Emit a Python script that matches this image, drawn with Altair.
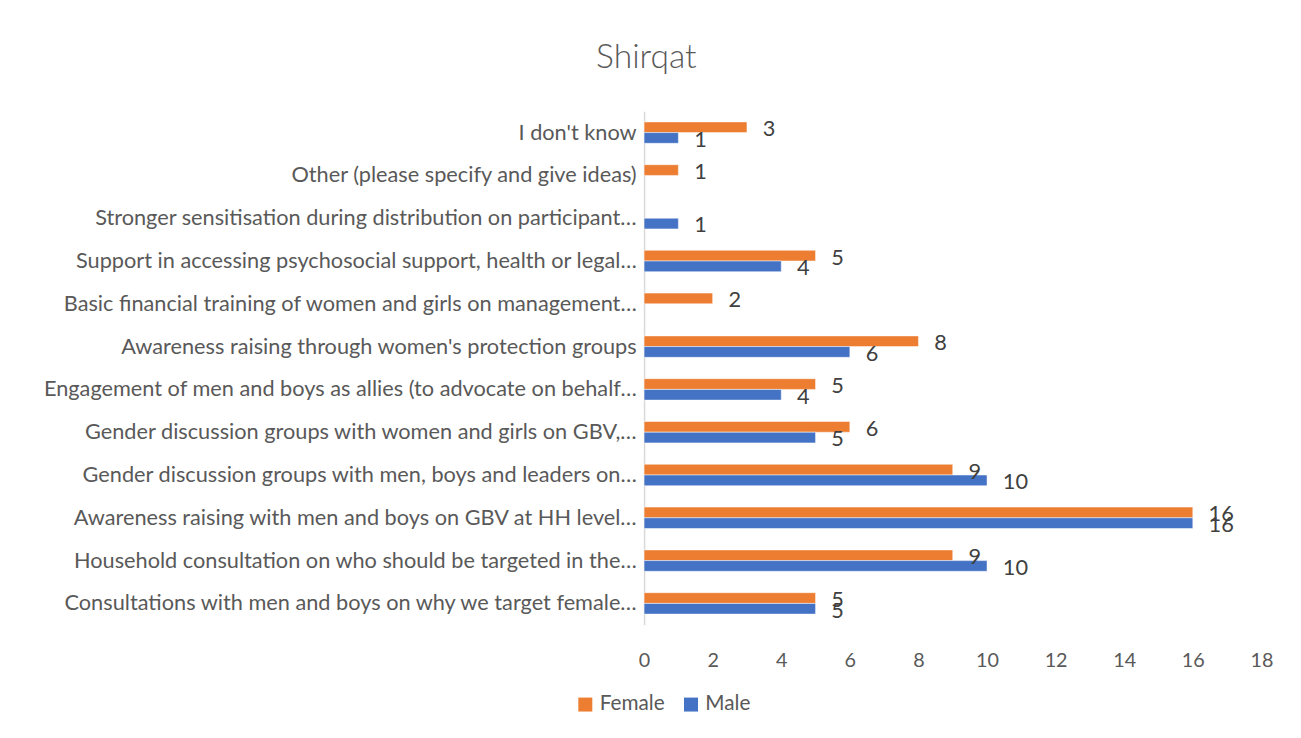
import altair as alt
import pandas as pd

categories = [
    "I don't know",
    "Other (please specify and give ideas)",
    "Stronger sensitisation during distribution on participant…",
    "Support in accessing psychosocial support, health or legal…",
    "Basic financial training of women and girls on management…",
    "Awareness raising through women's protection groups",
    "Engagement of men and boys as allies (to advocate on behalf…",
    "Gender discussion groups with women and girls on GBV,…",
    "Gender discussion groups with men, boys and leaders on…",
    "Awareness raising with men and boys on GBV at HH level…",
    "Household consultation on who should be targeted in the…",
    "Consultations with men and boys on why we target female…",
]
female = [3, 1, None, 5, 2, 8, 5, 6, 9, 16, 9, 5]
male = [1, None, 1, 4, None, 6, 4, 5, 10, 16, 10, 5]
series = ["Female", "Male"]
colors = ["#ED7D31", "#4472C4"]
x_ticks = [0, 2, 4, 6, 8, 10, 12, 14, 16, 18]

rows = []
for c, f, m in zip(categories, female, male):
    if f is not None:
        rows.append({"cat": c, "series": "Female", "value": f})
    if m is not None:
        rows.append({"cat": c, "series": "Male", "value": m})
df = pd.DataFrame(rows)

FONT = "Lato"

y_enc = alt.Y("cat:N", sort=categories, title=None,
              scale=alt.Scale(paddingInner=0.5, paddingOuter=0.25),
              axis=alt.Axis(labelFontSize=22, labelColor="#595959", labelFont=FONT,
                            domainColor="#d9d9d9", domainWidth=1.5, ticks=False,
                            labelPadding=8, minExtent=632, maxExtent=632, labelLimit=624))
yoff = alt.YOffset("series:N", scale=alt.Scale(domain=series))
x_enc = alt.X("value:Q", title=None,
              scale=alt.Scale(domain=[0, 18], nice=False),
              axis=alt.Axis(values=x_ticks, grid=False, domain=False, ticks=False,
                            labelFlush=False, labelPadding=26, labelFontSize=20,
                            labelColor="#595959", labelFont=FONT))

bars = alt.Chart(df).mark_bar(stroke="white", strokeWidth=0.5).encode(
    y=y_enc, yOffset=yoff, x=x_enc,
    color=alt.Color("series:N", scale=alt.Scale(domain=series, range=colors),
                    legend=alt.Legend(title=None, orient="none", legendX=-70, legendY=590,
                                      direction="horizontal", symbolType="square",
                                      symbolSize=200, labelFontSize=21, labelFont=FONT,
                                      labelColor="#595959", columnPadding=16,
                                      symbolStrokeWidth=0)),
)

labels = alt.Chart(df).mark_text(align="left", dx=16, dy=2, baseline="middle",
                                 fontSize=22, color="#404040", font=FONT).encode(
    y=alt.Y("cat:N", sort=categories), yOffset=yoff, x="value:Q",
    text=alt.Text("value:Q"),
)

chart = (bars + labels).properties(
    width=625, height=520,
    title=alt.TitleParams("Shirqat", fontSize=34, font=FONT, fontWeight=300,
                          color="#595959", offset=37, anchor="middle", frame="bounds"),
    padding={"left": 12, "top": 29, "right": 20, "bottom": 10},
).configure_view(stroke=None)

chart.save("out.html", embed_options={"renderer": "svg", "actions": False})
